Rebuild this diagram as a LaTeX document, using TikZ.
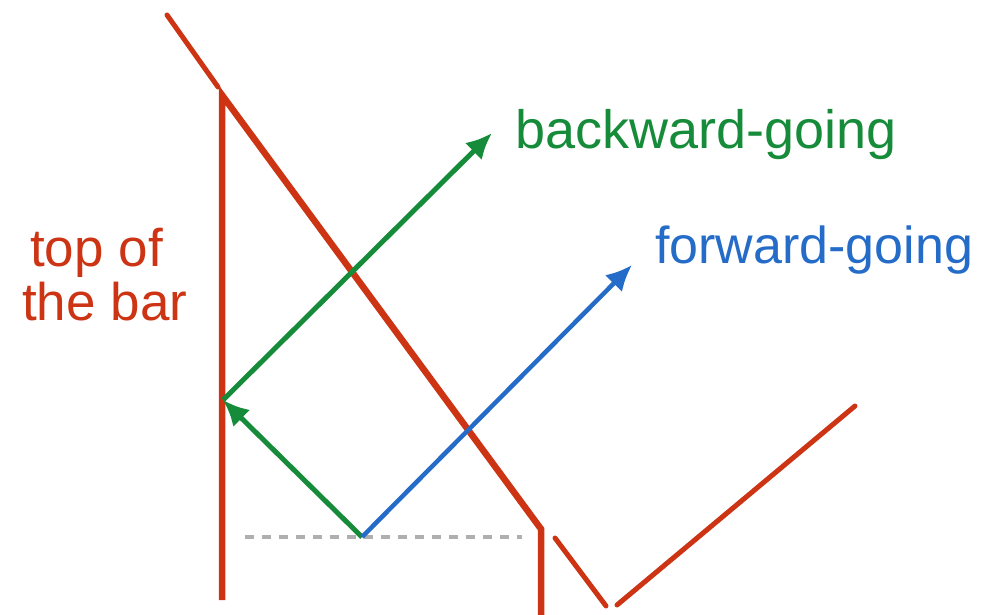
\documentclass[tikz,border=0pt]{standalone}
\usepackage{fontspec}
\setmainfont{Liberation Sans}
\usetikzlibrary{arrows.meta}
\definecolor{barred}{RGB}{204,52,20}
\definecolor{bgreen}{RGB}{22,140,58}
\definecolor{fblue}{RGB}{36,108,200}
\definecolor{dgrey}{RGB}{175,175,175}
\tikzset{
  redline/.style={barred, line width=6.5pt},
  thinred/.style={barred, line width=5pt, line cap=round},
  greenarrow/.style={bgreen, line width=5pt, -{Latex[length=26pt,width=24pt]}},
  bluearrow/.style={fblue, line width=4.5pt, -{Latex[length=26pt,width=24pt]}},
  lbl/.style={inner sep=0pt, anchor=base west}
}
\begin{document}
\begin{tikzpicture}[x=1pt,y=-1pt]
\useasboundingbox (0,0) rectangle (999,615);
\clip (0,0) rectangle (999,615);
% coordinates
\coordinate (s1) at (167,15);
\coordinate (s2) at (218,87);
\coordinate (top) at (222,95);
\coordinate (vbot) at (222,600);
\coordinate (corner) at (541,529);
\coordinate (cbot) at (541,620);
\coordinate (v1) at (555,538);
\coordinate (v2) at (606,606);
\coordinate (v3) at (617,605);
\coordinate (v4) at (855,406);
\coordinate (src) at (362,537);
\coordinate (refl) at (223,400);
\coordinate (gtip) at (492,133);
\coordinate (btip) at (632,265);
\coordinate (d1) at (245,537);
\coordinate (d2) at (522,537);
% dashed line
\draw[dgrey, line width=4.5pt, dash pattern=on 9pt off 8pt] (d1) -- (d2);
% red lines
\draw[thinred] (s1) -- (s2);
\draw[redline] (vbot) -- (top) -- (corner) -- (cbot);
\draw[thinred] (v1) -- (v2);
\draw[thinred] (v3) -- (v4);
% arrows
\draw[greenarrow] (src) -- (refl);
\draw[greenarrow] (refl) -- (gtip);
\draw[bluearrow] (src) -- (btip);
% labels
\node[lbl, text=bgreen, font=\fontsize{54}{58}\selectfont] (back) at (515,149) {backward-going};
\node[lbl, text=fblue, font=\fontsize{52}{56}\selectfont] (fwd) at (655,263) {forward-going};
\node[lbl, text=barred, font=\fontsize{53}{57}\selectfont] (top1) at (30,266) {top of};
\node[lbl, text=barred, font=\fontsize{53}{57}\selectfont] (top2) at (22,320) {the bar};
\end{tikzpicture}
\end{document}
